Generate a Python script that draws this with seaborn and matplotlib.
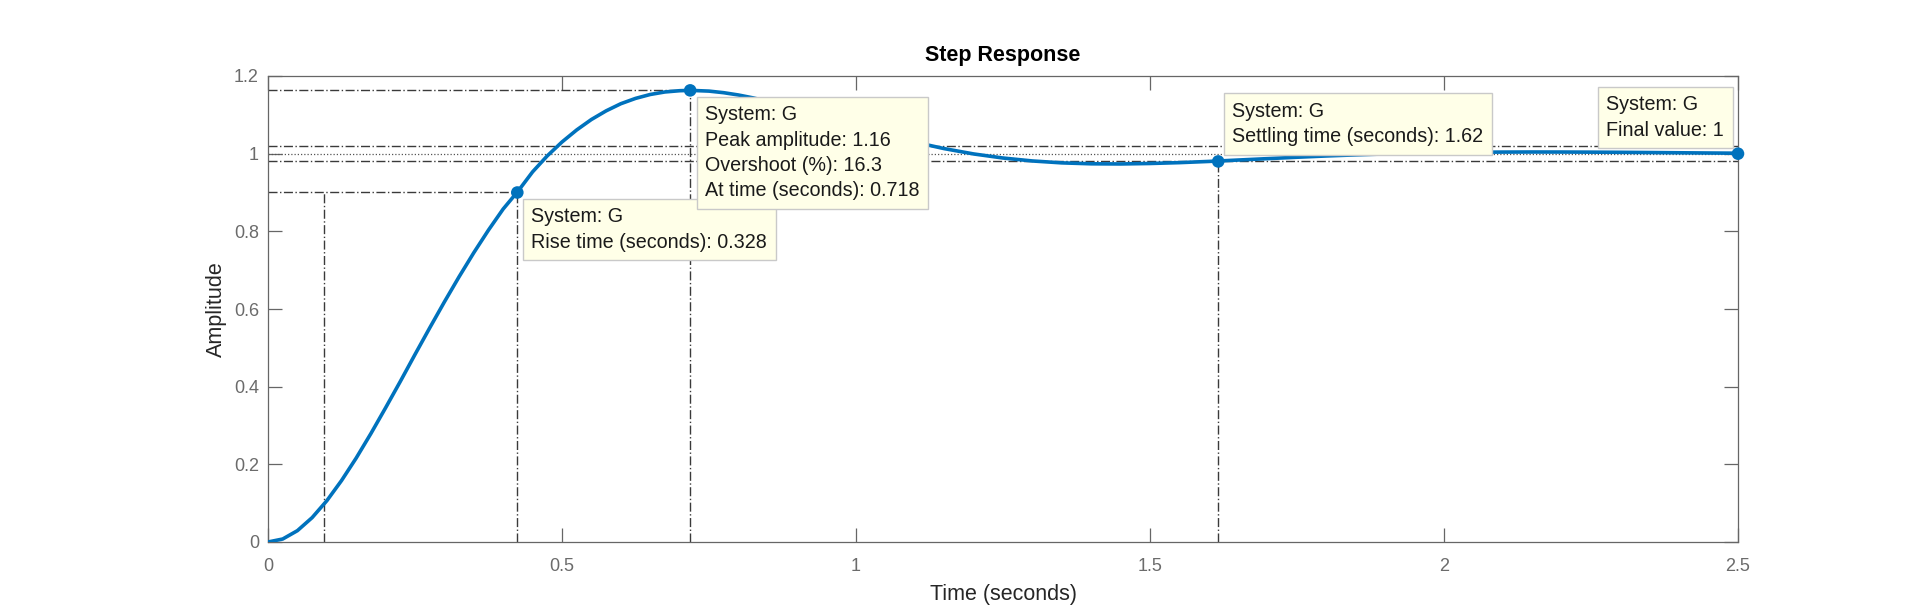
import numpy as np
import pandas as pd
import matplotlib
matplotlib.use("Agg")
import matplotlib.pyplot as plt
import seaborn as sns
from matplotlib.ticker import FuncFormatter

# step response of G
time_s = [0.0, 0.025, 0.05, 0.075, 0.1, 0.125, 0.15, 0.175, 0.2, 0.225, 0.25,
          0.275, 0.3, 0.325, 0.35, 0.375, 0.4, 0.425, 0.45, 0.475, 0.5, 0.525,
          0.55, 0.575, 0.6, 0.625, 0.65, 0.675, 0.7, 0.718, 0.75, 0.775, 0.8,
          0.825, 0.85, 0.875, 0.9, 0.925, 0.95, 0.975, 1.0,
          1.05, 1.1, 1.15, 1.2, 1.25, 1.3, 1.35, 1.4, 1.45, 1.5, 1.55, 1.6,
          1.65, 1.7, 1.75, 1.8, 1.85, 1.9, 1.95, 2.0, 2.05, 2.1, 2.15, 2.2,
          2.25, 2.3, 2.35, 2.4, 2.45, 2.5]
amplitude = [0.0, 0.0077, 0.0292, 0.0627, 0.1062, 0.1581, 0.2162, 0.2793,
             0.3456, 0.4134, 0.4829, 0.5513, 0.6183, 0.6831, 0.7450, 0.8033,
             0.8576, 0.9030, 0.9532, 0.9944, 1.0301, 1.0611, 1.0880, 1.1102,
             1.1286, 1.1423, 1.1524, 1.1589, 1.1621, 1.1630, 1.1611, 1.1570,
             1.1511, 1.1436, 1.1348, 1.1251, 1.1146, 1.1038, 1.0925, 1.0814,
             1.0703,
             1.0490, 1.0297, 1.0130, 0.9993, 0.9888, 0.9812, 0.9763, 0.9739,
             0.9735, 0.9747, 0.9769, 0.9800, 0.9836, 0.9872, 0.9908, 0.9941,
             0.9969, 0.9993, 1.0012, 1.0027, 1.0036, 1.0041, 1.0043, 1.0042,
             1.0039, 1.0035, 1.0029, 1.0023, 1.0017, 1.0012]

# characteristics
rise_lo, rise_hi, rise_level = 0.096, 0.424, 0.9
peak_time, peak_amp = 0.718, 1.163
settle_time, settle_amp = 1.616, 0.98
final_time, final_value = 2.5, 1.0
settle_band = 0.02

tip_rise = "System: G\nRise time (seconds): 0.328"
tip_peak = "System: G\nPeak amplitude: 1.16\nOvershoot (%): 16.3\nAt time (seconds): 0.718"
tip_settle = "System: G\nSettling time (seconds): 1.62"
tip_final = "System: G\nFinal value: 1"

x_ticks = [0, 0.5, 1, 1.5, 2, 2.5]
y_ticks = [0, 0.2, 0.4, 0.6, 0.8, 1.0, 1.2]

LINE_BLUE = "#0072BD"
AX_GRAY = "#666666"
DASHDOT = dict(color="#3a3a3a", lw=1.0, dashes=(6.5, 1.8, 1.0, 1.8), zorder=1.5)

sns.set_theme(style="white")
plt.rcParams["font.family"] = ["Liberation Sans", "DejaVu Sans"]

fig = plt.figure(figsize=(19.2, 6.1), dpi=100)
ax = fig.add_axes([268 / 1920, 68 / 610, 1470 / 1920, 466 / 610])

# guide lines
ax.plot([0, peak_time], [peak_amp, peak_amp], **DASHDOT)
ax.plot([peak_time, peak_time], [0, peak_amp], **DASHDOT)
ax.plot([0, rise_hi], [rise_level, rise_level], **DASHDOT)
ax.plot([rise_lo, rise_lo], [0, rise_level], **DASHDOT)
ax.plot([rise_hi, rise_hi], [0, rise_level], **DASHDOT)
ax.plot([0, final_time], [final_value + settle_band] * 2, **DASHDOT)
ax.plot([0, final_time], [final_value - settle_band] * 2, **DASHDOT)
ax.plot([settle_time, settle_time], [0, settle_amp], **DASHDOT)
ax.plot([0, final_time], [final_value, final_value], color="#555555", lw=0.9,
        ls=(0, (1, 1.6)), zorder=1.5)

sns.lineplot(x=time_s, y=amplitude, ax=ax, color=LINE_BLUE, lw=2.6,
             estimator=None, sort=False, zorder=3)
ax.lines[-1].set_solid_joinstyle("round")

pts = pd.DataFrame({
    "t": [rise_hi, peak_time, settle_time, final_time],
    "y": [rise_level, peak_amp, settle_amp, final_value],
})
sns.scatterplot(data=pts, x="t", y="y", ax=ax, color=LINE_BLUE, s=82,
                edgecolor="none", zorder=4, clip_on=False)

box = dict(boxstyle="square,pad=0.44", fc="#ffffe8", ec="#c9c9c9", lw=1.0)
tip_kw = dict(textcoords="offset pixels", fontsize=14.2, color="#1a1a1a",
              linespacing=1.42, bbox=box, annotation_clip=False,
              multialignment="left")
ax.annotate(tip_rise, (rise_hi, rise_level), xytext=(14, -15), ha="left",
            va="top", zorder=5, **tip_kw)
ax.annotate(tip_peak, (peak_time, peak_amp), xytext=(15, -15), ha="left",
            va="top", zorder=6, **tip_kw)
ax.annotate(tip_settle, (settle_time, settle_amp), xytext=(14, 15), ha="left",
            va="bottom", zorder=5, **tip_kw)
ax.annotate(tip_final, (final_time, final_value), xytext=(-14, 14), ha="right",
            va="bottom", zorder=5, **tip_kw)

ax.set_xlim(0, 2.5)
ax.set_ylim(0, 1.2)
ax.set_xticks(x_ticks)
ax.set_yticks(y_ticks)
fmt = FuncFormatter(lambda v, _: f"{v:g}")
ax.xaxis.set_major_formatter(fmt)
ax.yaxis.set_major_formatter(fmt)

for s in ax.spines.values():
    s.set_color(AX_GRAY)
    s.set_linewidth(0.9)
ax.tick_params(axis="both", which="major", direction="in", length=10,
               width=0.9, color=AX_GRAY, labelcolor="#6b6b6b", labelsize=13,
               top=True, right=True, bottom=True, left=True)
ax.tick_params(axis="x", pad=11.5)
ax.tick_params(axis="y", pad=6.5)

ax.set_title("Step Response", fontsize=15.5, fontweight="bold", color="black", pad=11)
ax.set_xlabel("Time (seconds)", fontsize=15.5, color="#262626", labelpad=6.5)
ax.set_ylabel("Amplitude", fontsize=15.5, color="#262626", labelpad=5)

fig.savefig("out.png", dpi=100)
